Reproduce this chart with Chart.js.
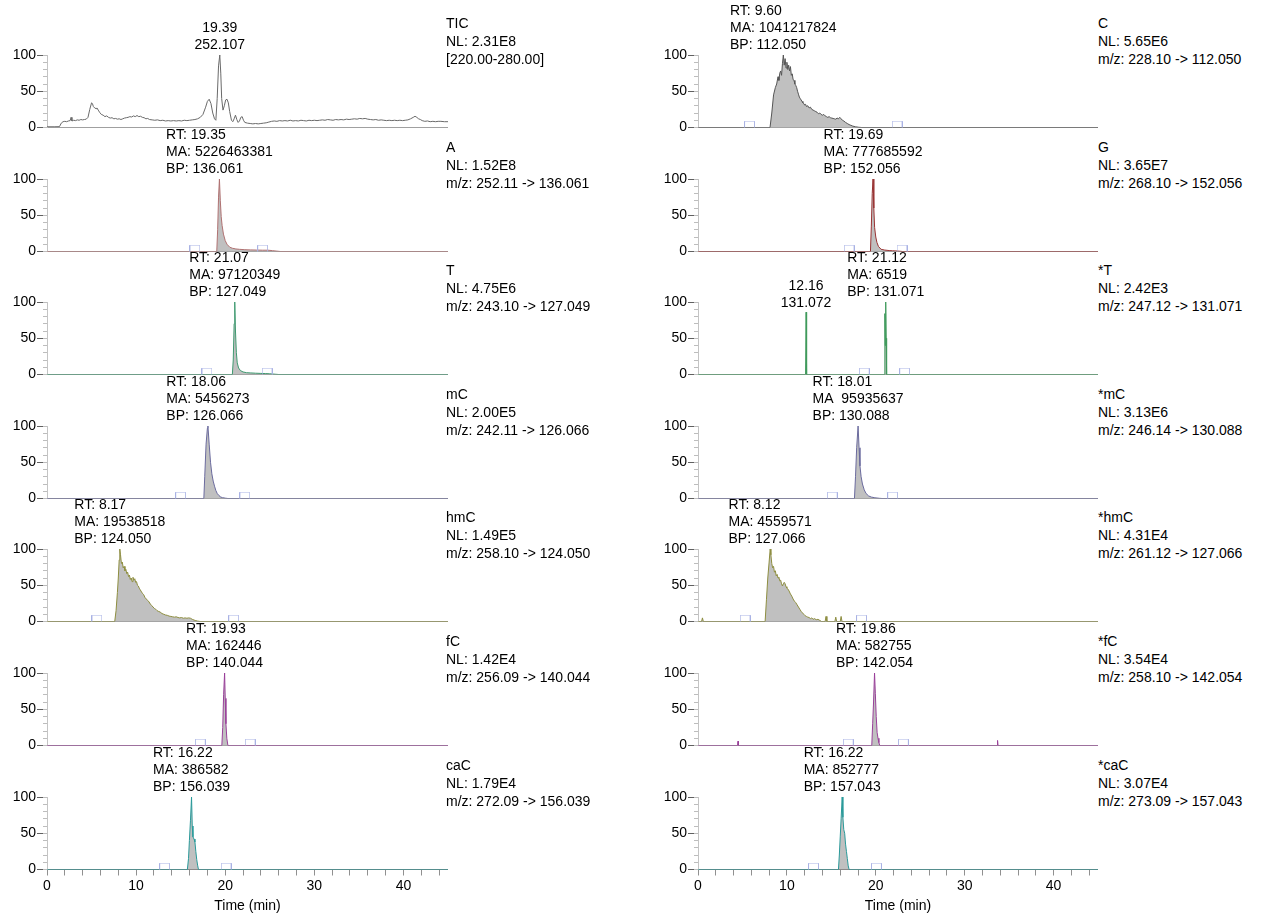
<!DOCTYPE html>
<html><head><meta charset="utf-8">
<script src="https://cdn.jsdelivr.net/npm/chart.js@4/dist/chart.umd.min.js"></script>
<style>
html,body{margin:0;padding:0;background:#fff;}
body{width:1262px;height:915px;position:relative;overflow:hidden;font-family:"Liberation Sans",Arial,sans-serif;}
canvas{position:absolute;}
.lbl{position:absolute;font-size:14px;line-height:18px;color:#000;white-space:pre;}
</style></head><body>
<script>
// ---------------- DATA ----------------
const xTickValues = [0,2,4,6,8,10,12,14,16,18,20,22,24,26,28,30,32,34,36,38,40,42,44];
const xTickLabels = ['0','10','20','30','40'];
const yMajorTicks = [0,50,100];
const yMinorTicks = [0,10,20,30,40,50,60,70,80,90,100];

const panelNames = ['TIC','A','T','mC','hmC','fC','caC','C','G','*T','*mC','*hmC','*fC','*caC'];
const panelNL = ['NL: 2.31E8','NL: 1.52E8','NL: 4.75E6','NL: 2.00E5','NL: 1.49E5','NL: 1.42E4','NL: 1.79E4',
                 'NL: 5.65E6','NL: 3.65E7','NL: 2.42E3','NL: 3.13E6','NL: 4.31E4','NL: 3.54E4','NL: 3.07E4'];
const panelFilter = ['[220.00-280.00]','m/z: 252.11 -> 136.061','m/z: 243.10 -> 127.049','m/z: 242.11 -> 126.066',
                     'm/z: 258.10 -> 124.050','m/z: 256.09 -> 140.044','m/z: 272.09 -> 156.039',
                     'm/z: 228.10 -> 112.050','m/z: 268.10 -> 152.056','m/z: 247.12 -> 131.071',
                     'm/z: 246.14 -> 130.088','m/z: 261.12 -> 127.066','m/z: 258.10 -> 142.054','m/z: 273.09 -> 157.043'];

// traces: [time (min), relative abundance]
const traceTIC = [[0,1],[0.8,1],[1.4,1.2],[1.6,6],[1.8,8],[2.0,8.5],[2.2,8],[2.4,9],[2.6,9.5],[2.7,14],[2.8,9],[3.0,10],[3.2,9.5],[3.4,10.5],[3.6,10],[3.8,11],[4.0,10.5],[4.2,11],[4.4,11.5],[4.6,14],[4.8,25],[5.0,34],[5.1,33],[5.2,29],[5.35,27],[5.5,26],[5.6,27],[5.75,24],[5.9,21],[6.1,18],[6.3,17],[6.5,15],[6.7,16],[6.9,14],[7.1,13],[7.3,13.5],[7.5,12],[7.7,12.5],[7.9,11.5],[8.1,12],[8.3,11],[8.5,12],[8.7,13],[8.9,13.5],[9.1,14],[9.3,15],[9.5,14.5],[9.7,16],[9.9,15],[10.1,16.5],[10.3,15],[10.5,15.5],[10.7,14],[10.9,13.5],[11.1,12],[11.3,12.5],[11.5,11],[11.8,10.5],[12.1,10],[12.4,10.5],[12.7,9.5],[13.0,10],[13.3,9],[13.6,9.5],[13.9,9],[14.2,9.5],[14.5,9],[14.8,9.5],[15.1,9],[15.4,10],[15.7,9.5],[16.0,10],[16.3,10.5],[16.6,11],[16.9,12],[17.2,14],[17.5,18],[17.8,28],[18.0,36],[18.2,39],[18.4,33],[18.6,20],[18.8,12],[18.95,10],[19.1,40],[19.25,85],[19.39,100],[19.5,75],[19.6,40],[19.75,24],[19.9,30],[20.05,38],[20.2,39],[20.35,34],[20.5,22],[20.7,10],[20.85,8],[21.0,12],[21.15,17],[21.3,11],[21.45,7],[21.6,9],[21.75,14],[21.9,15],[22.05,10],[22.2,7],[22.5,6],[22.8,5.5],[23.1,5],[23.4,5.5],[23.7,5],[24.0,5.5],[24.3,6],[24.6,6.5],[24.9,7.5],[25.2,8.5],[25.5,9],[25.8,8.5],[26.1,9.5],[26.4,9],[26.7,9.5],[27.0,9],[27.3,10],[27.6,9],[27.9,9.5],[28.2,9],[28.5,10],[28.8,9.5],[29.1,9],[29.4,10],[29.7,9.5],[30.0,10],[30.3,9.5],[30.6,10],[30.9,10.5],[31.2,10],[31.5,11],[31.8,10.5],[32.1,10],[32.4,11],[32.7,10.5],[33.0,11],[33.3,10.5],[33.6,11.5],[33.9,11],[34.2,11.5],[34.5,12],[34.8,11.5],[35.1,12.5],[35.4,12],[35.7,12.5],[36.0,11.5],[36.3,11],[36.6,10.5],[36.9,11],[37.2,10],[37.5,10.5],[37.8,10],[38.1,9.5],[38.4,10],[38.7,9.5],[39.0,10],[39.3,9.5],[39.6,10],[39.9,9.5],[40.2,10],[40.5,10.5],[40.8,12],[41.1,14],[41.3,15.5],[41.5,14],[41.7,12],[41.9,11],[42.1,9.5],[42.4,8.5],[42.7,9],[43.0,8],[43.3,8.5],[43.6,8],[43.9,8.5],[44.2,8.5],[44.6,8],[45,8]];
const traceA = [[0,0],[19.05,0],[19.15,30],[19.25,75],[19.35,100],[19.45,70],[19.55,48],[19.65,36],[19.8,24],[20.0,15],[20.2,10],[20.5,6],[20.8,4.5],[21.2,3.5],[21.6,3],[22.2,2.5],[22.8,2.2],[23.5,2],[24.2,1.8],[24.8,1.8],[25.3,1.2],[25.8,0.5],[26.2,0],[45,0]];
const traceT = [[0,0],[20.8,0],[20.9,20],[21.0,70],[21.07,100],[21.15,60],[21.25,30],[21.35,16],[21.5,9],[21.7,5.5],[22.0,3.5],[22.4,2.5],[22.8,2.2],[23.4,1.8],[24.0,1.5],[24.5,1.3],[25.0,1.0],[25.6,0.4],[26.0,0],[45,0]];
const traceMC = [[0,0],[17.6,0],[17.7,30],[17.85,75],[18.0,97],[18.06,100],[18.2,75],[18.35,50],[18.5,34],[18.65,24],[18.8,17],[18.95,11],[19.1,7],[19.3,4],[19.5,2],[19.7,1.2],[20.0,0.5],[20.3,0],[45,0]];
const traceHMC = [[0,0],[7.6,0],[7.75,15],[7.9,40],[8.0,60],[8.1,85],[8.17,100],[8.25,92],[8.35,80],[8.45,82],[8.55,74],[8.65,76],[8.75,70],[8.85,72],[8.95,66],[9.05,68],[9.15,62],[9.25,64],[9.35,58],[9.45,60],[9.55,55],[9.65,61],[9.75,57],[9.85,59],[9.95,54],[10.05,55],[10.15,50],[10.25,49],[10.35,46],[10.45,44],[10.55,42],[10.7,39],[10.85,37],[11.0,33],[11.15,31],[11.3,29],[11.45,27],[11.6,24],[11.75,22],[11.9,20],[12.05,18],[12.2,17],[12.35,15],[12.5,14],[12.7,13],[12.9,11],[13.1,10],[13.3,9],[13.5,8.5],[13.7,7.5],[13.9,7],[14.1,6.5],[14.3,6],[14.5,6.5],[14.7,5.5],[14.9,5],[15.1,5.5],[15.3,4.5],[15.5,5],[15.7,4.5],[15.9,5],[16.1,4.5],[16.3,3],[16.5,2],[16.7,1.2],[16.9,0.6],[17.2,0],[45,0]];
const traceFC = [[0,0],[19.62,0],[19.72,25],[19.82,70],[19.93,100],[20.0,65],[20.08,30],[20.18,10],[20.3,0],[45,0]];
const traceCAC = [[0,0],[15.75,0],[15.88,15],[15.98,40],[16.1,68],[16.22,100],[16.3,60],[16.38,45],[16.5,42],[16.6,38],[16.7,25],[16.8,14],[16.9,6],[17.0,0],[45,0]];
const traceC = [[0,0],[8.1,0],[8.3,20],[8.5,45],[8.7,55],[8.85,60],[9.0,70],[9.1,65],[9.2,75],[9.3,78],[9.4,72],[9.5,88],[9.6,100],[9.7,86],[9.8,95],[9.9,82],[10.0,90],[10.1,80],[10.2,86],[10.3,78],[10.4,84],[10.5,72],[10.6,74],[10.7,66],[10.8,65],[10.9,60],[11.0,58],[11.1,55],[11.2,50],[11.3,46],[11.4,42],[11.5,40],[11.6,38],[11.7,36],[11.8,34],[11.9,33],[12.0,31],[12.1,32],[12.2,29],[12.35,30],[12.5,27],[12.65,28],[12.8,25],[12.95,24],[13.1,23],[13.25,22],[13.4,21],[13.55,19],[13.7,20],[13.85,18],[14.0,17],[14.15,18],[14.3,16],[14.45,15],[14.6,14],[14.75,15],[14.9,13.5],[15.05,13],[15.2,12.5],[15.35,12],[15.5,11.5],[15.65,13],[15.8,12],[15.95,14],[16.1,12],[16.25,10],[16.4,9],[16.6,7],[16.8,5.5],[17.0,4],[17.2,3],[17.4,2],[17.7,1],[18.1,0.3],[18.4,0],[45,0]];
const traceG = [[0,0],[19.4,0],[19.5,35],[19.6,80],[19.69,100],[19.78,60],[19.87,33],[20.0,20],[20.13,12.5],[20.3,7],[20.6,3],[21.0,2],[21.5,1.3],[21.9,1],[22.5,0.6],[23.0,0],[45,0]];
const traceST = [[0,0],[12.1,0],[12.16,86],[12.22,0],[20.95,0],[21.02,84],[21.07,40],[21.12,100],[21.17,50],[21.22,0],[45,0]];
const traceSMC = [[0,0],[17.6,0],[17.72,30],[17.85,70],[18.01,100],[18.12,70],[18.22,45],[18.35,30],[18.5,20],[18.7,12],[18.9,7],[19.2,3.5],[19.5,2],[19.9,1],[20.4,0.3],[20.7,0],[45,0]];
const traceSHMC = [[0,0],[0.4,0],[0.5,5],[0.6,0],[7.55,0],[7.7,30],[7.85,60],[8.0,82],[8.12,100],[8.2,92],[8.3,80],[8.4,74],[8.5,76],[8.6,68],[8.7,70],[8.8,63],[8.9,65],[9.0,60],[9.1,61],[9.2,56],[9.3,57],[9.4,52],[9.5,49],[9.6,52],[9.7,54],[9.8,52],[9.9,48],[10.0,46],[10.1,45],[10.25,42],[10.4,38],[10.55,35],[10.7,31],[10.85,28],[11.0,26],[11.15,23],[11.3,20],[11.45,17],[11.6,14],[11.75,12],[11.9,10],[12.05,8],[12.2,7],[12.35,6],[12.5,5.5],[12.65,4],[12.8,5],[12.95,3],[13.1,4],[13.3,2.5],[13.5,3],[13.7,1.5],[13.9,0],[14.3,0],[14.4,7],[14.5,0],[15.4,0],[15.5,6],[15.6,0],[16.0,0],[16.1,7],[16.2,0],[45,0]];
const traceSFC = [[0,0],[4.45,0],[4.5,6],[4.55,0],[19.55,0],[19.65,30],[19.75,60],[19.86,100],[19.95,72],[20.05,40],[20.15,18],[20.25,10],[20.35,4],[20.45,0],[33.65,0],[33.7,7],[33.75,0],[45,0]];
const traceSCAC = [[0,0],[15.8,0],[15.9,20],[16.0,45],[16.1,70],[16.22,100],[16.3,72],[16.4,55],[16.5,50],[16.6,35],[16.7,25],[16.8,15],[16.9,5],[17.0,0],[45,0]];

// integration boundary markers (min)
const markersTIC = [];
const markersA = [16.6, 24.2];
const markersT = [17.95, 24.7];
const markersMC = [15.0, 22.2];
const markersHMC = [5.6, 20.95];
const markersFC = [17.2, 22.8];
const markersCAC = [13.2, 20.1];
const markersC = [5.8, 22.4];
const markersG = [17.0, 22.95];
const markersST = [18.7, 23.25];
const markersSMC = [15.1, 21.9];
const markersSHMC = [5.3, 18.4];
const markersSFC = [16.9, 23.1];
const markersSCAC = [13.0, 20.07];

// peak labels
const peaksTIC = [{t:19.39, h:100, center:true, lines:['19.39','252.107']}];
const peaksA = [{t:19.35, h:100, lines:['RT: 19.35','MA: 5226463381','BP: 136.061']}];
const peaksT = [{t:21.07, h:100, lines:['RT: 21.07','MA: 97120349','BP: 127.049']}];
const peaksMC = [{t:18.06, h:100, lines:['RT: 18.06','MA: 5456273','BP: 126.066']}];
const peaksHMC = [{t:8.17, h:100, lines:['RT: 8.17','MA: 19538518','BP: 124.050']}];
const peaksFC = [{t:19.93, h:100, lines:['RT: 19.93','MA: 162446','BP: 140.044']}];
const peaksCAC = [{t:16.22, h:100, lines:['RT: 16.22','MA: 386582','BP: 156.039']}];
const peaksC = [{t:9.60, h:100, lines:['RT: 9.60','MA: 1041217824','BP: 112.050']}];
const peaksG = [{t:19.69, h:100, lines:['RT: 19.69','MA: 777685592','BP: 152.056']}];
const peaksST = [{t:12.16, h:86, center:true, lines:['12.16','131.072']},{t:21.12, h:100, lines:['RT: 21.12','MA: 6519','BP: 131.071']}];
const peaksSMC = [{t:18.01, h:100, lines:['RT: 18.01','MA  95935637','BP: 130.088']}];
const peaksSHMC = [{t:8.12, h:100, lines:['RT: 8.12','MA: 4559571','BP: 127.066']}];
const peaksSFC = [{t:19.86, h:100, lines:['RT: 19.86','MA: 582755','BP: 142.054']}];
const peaksSCAC = [{t:16.22, h:100, lines:['RT: 16.22','MA: 852777','BP: 157.043']}];

// ---------------- RENDERING ----------------
const FONT = '"Liberation Sans", Arial, sans-serif';
Chart.defaults.font.family = FONT;
Chart.defaults.font.size = 14;
Chart.defaults.color = '#000';

const markerImg = (function(){
  const c = document.createElement('canvas'); c.width = 11; c.height = 14;
  const g = c.getContext('2d'); g.strokeStyle = '#a9b2e4'; g.lineWidth = 1;
  g.beginPath(); g.moveTo(0.5,7); g.lineTo(0.5,0.5); g.lineTo(10.5,0.5); g.lineTo(10.5,7); g.stroke();
  return c;
})();

function peakLabelPlugin(peaks){
  return {id:'peakLabels', afterDatasetsDraw(chart){
    const ctx = chart.ctx, xs = chart.scales.x, ys = chart.scales.y;
    ctx.save();
    ctx.font = '14px ' + FONT; ctx.fillStyle = '#000'; ctx.textBaseline = 'middle';
    peaks.forEach(p => {
      const px = xs.getPixelForValue(p.t), py = ys.getPixelForValue(p.h);
      const n = p.lines.length;
      const w = Math.max(...p.lines.map(l => ctx.measureText(l).width));
      p.lines.forEach((l,k) => {
        const y = py - 9.5 - (n-1-k)*17;
        if (p.center) { ctx.textAlign = 'center'; ctx.fillText(l, px, y); }
        else { ctx.textAlign = 'left'; ctx.fillText(l, px - w/2, y); }
      });
    });
    ctx.restore();
  }};
}

function zeroPad(s){ s.paddingLeft = 0; s.paddingRight = 0; s.paddingTop = 0; s.paddingBottom = 0; }

const PAD_TOP = 52, AREA_H = 72.5, AXIS_W = 47;

function makePanel(idx, col, row, trace, markers, peaks, color, filled, bottom){
  const top = Math.round(55 + row*123.6);
  const cLeft = col === 0 ? 0 : 651;
  const cWidth = col === 0 ? 448 : 447;
  const cTop = top - PAD_TOP;
  const axisH = bottom ? 46 : 0;
  const cHeight = Math.ceil(PAD_TOP + AREA_H + (bottom ? 46 : 10));
  const cv = document.createElement('canvas');
  cv.width = cWidth; cv.height = cHeight;
  cv.style.left = cLeft + 'px'; cv.style.top = cTop + 'px';
  cv.style.width = cWidth + 'px'; cv.style.height = cHeight + 'px';
  document.body.appendChild(cv);

  // side label
  const lb = document.createElement('div');
  lb.className = 'lbl';
  lb.style.left = (col === 0 ? 446 : 1098) + 'px';
  lb.style.top = (top - 41.5) + 'px';
  lb.textContent = panelNames[idx] + '\n' + panelNL[idx] + '\n' + panelFilter[idx];
  document.body.appendChild(lb);

  const datasets = [{
    data: trace.map(p => ({x:p[0], y:p[1]})),
    borderColor: color, borderWidth: 1,
    backgroundColor: '#c0c0c0',
    fill: filled ? 'origin' : false,
    pointRadius: 0, pointHoverRadius: 0, tension: 0, order: 2
  }];
  if (markers.length) datasets.push({
    data: markers.map(t => ({x:t, y:0})),
    showLine: false, pointStyle: markerImg, pointRadius: 5, pointHoverRadius: 5,
    borderColor: '#a9b2e4', backgroundColor: '#a9b2e4', order: 1, clip: false
  });

  new Chart(cv, {
    type: 'line',
    data: { datasets },
    options: {
      responsive: false, animation: false, events: [],
      devicePixelRatio: 1,
      layout: { autoPadding: false,
                padding: { top: PAD_TOP, left: 0, right: 0, bottom: cHeight - PAD_TOP - AREA_H - axisH } },
      plugins: { legend: {display:false}, tooltip: {enabled:false} },
      scales: {
        x: {
          type: 'linear', min: 0, max: 45,
          afterBuildTicks: s => { s.ticks = xTickValues.map(v => ({value:v})); },
          afterFit: s => { s.height = axisH; zeroPad(s); },
          border: { display: true, color: bottom ? '#808080' : '#a0a0a0', width: 1 },
          grid: { display: bottom, drawOnChartArea: false, tickLength: 6, color: '#909090' },
          ticks: { display: bottom, autoSkip: false, maxRotation: 0, padding: 2, color: '#000',
                   callback: v => xTickLabels.includes(String(v)) ? String(v) : '' },
          title: { display: bottom, text: 'Time (min)', color: '#000', padding: {top: 0, bottom: 1} }
        },
        y: {
          type: 'linear', min: 0, max: 100, position: 'left', weight: 1,
          afterBuildTicks: s => { s.ticks = yMajorTicks.map(v => ({value:v})); },
          afterFit: s => { s.width = AXIS_W; zeroPad(s); },
          border: { display: true, color: '#c4c4c4', width: 1 },
          grid: { drawOnChartArea: false, tickLength: 10, color: '#606060' },
          ticks: { autoSkip: false, padding: 1, color: '#000', callback: v => String(v) }
        },
        yMinor: {
          type: 'linear', min: 0, max: 100, position: 'left', weight: 0,
          afterBuildTicks: s => { s.ticks = yMinorTicks.map(v => ({value:v})); },
          afterFit: s => { s.width = 0; zeroPad(s); },
          border: { display: false },
          grid: { drawOnChartArea: false, tickLength: 4, color: '#bdbdbd' },
          ticks: { display: false }
        }
      }
    },
    plugins: [peakLabelPlugin(peaks)]
  });
}

const leftTraces  = [traceTIC, traceA, traceT, traceMC, traceHMC, traceFC, traceCAC];
const rightTraces = [traceC, traceG, traceST, traceSMC, traceSHMC, traceSFC, traceSCAC];
const leftMarkers  = [markersTIC, markersA, markersT, markersMC, markersHMC, markersFC, markersCAC];
const rightMarkers = [markersC, markersG, markersST, markersSMC, markersSHMC, markersSFC, markersSCAC];
const leftPeaks  = [peaksTIC, peaksA, peaksT, peaksMC, peaksHMC, peaksFC, peaksCAC];
const rightPeaks = [peaksC, peaksG, peaksST, peaksSMC, peaksSHMC, peaksSFC, peaksSCAC];
const leftColors  = ['#6a6a6a','#b07272','#3f9a70','#6b6b9e','#8e8e40','#9a409a','#2a9a9a'];
const rightColors = ['#555555','#9a3434','#3f9a5c','#6b6b9e','#8e8e40','#9a409a','#2a9a9a'];

for (let r = 0; r < 7; r++) {
  makePanel(r, 0, r, leftTraces[r], leftMarkers[r], leftPeaks[r], leftColors[r], r !== 0, r === 6);
  makePanel(7 + r, 1, r, rightTraces[r], rightMarkers[r], rightPeaks[r], rightColors[r], true, r === 6);
}
</script>
</body></html>
